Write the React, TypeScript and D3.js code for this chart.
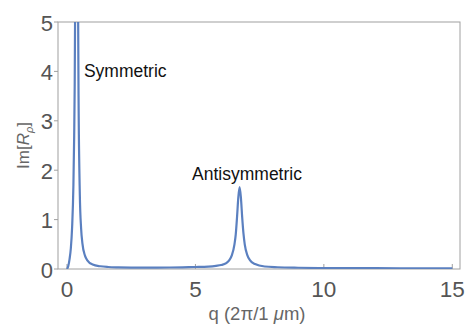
import React from 'react';
import * as d3 from 'd3';

// spectrum sampled off the figure (q in 2π/1µm, Im[Rp])
const qValues = [
  0, 0.05, 0.1, 0.15, 0.2, 0.25, 0.28, 0.3, 0.32, 0.34, 0.37, 0.4, 0.42, 0.45, 0.5, 0.55, 0.6, 0.7, 0.8, 1.0,
  1.3, 1.6, 2.0, 2.5, 3.0, 3.5, 4.0, 4.5, 5.0, 5.5, 5.8, 6.0, 6.2, 6.32, 6.42, 6.52, 6.57, 6.62, 6.67, 6.72,
  6.77, 6.82, 6.87, 6.92, 7.02, 7.12, 7.32, 7.7, 8.2, 9.0, 10.0, 11.0, 12.0, 13.0, 14.0, 15.0
];
const imValues = [
  0, 0.06, 0.2, 0.42, 0.85, 1.7, 2.7, 3.7, 5.6, 9.5, 20, 9.0, 6.5, 3.5, 1.5, 0.82, 0.52, 0.27, 0.17, 0.09,
  0.055, 0.04, 0.032, 0.028, 0.027, 0.028, 0.03, 0.034, 0.04, 0.05, 0.065, 0.08, 0.12, 0.18, 0.28, 0.5, 0.7, 1.05, 1.45, 1.66,
  1.45, 1.05, 0.72, 0.5, 0.28, 0.18, 0.1, 0.05, 0.035, 0.025, 0.02, 0.018, 0.016, 0.015, 0.014, 0.014
];
const xTicks = [0, 5, 10, 15];
const yTicks = [0, 1, 2, 3, 4, 5];
const annotations = [
  { text: 'Symmetric', q: 0.66, v: 3.89 },
  { text: 'Antisymmetric', q: 4.87, v: 1.8 }
];

const W = 466;
const H = 326;
const margin = { top: 22, right: 6, bottom: 57, left: 58 };

export default function App() {
  const x = d3.scaleLinear().domain([-0.35, 15.3]).range([margin.left, W - margin.right]);
  const y = d3.scaleLinear().domain([0, 5]).range([H - margin.bottom, margin.top]);
  const pts = qValues.map((q, i) => [q, imValues[i]] as [number, number]);
  const line = d3
    .line<[number, number]>()
    .x(d => x(d[0]))
    .y(d => y(d[1]))
    .curve(d3.curveMonotoneX);

  const axisCol = '#a0a0a0';
  const labelCol = '#555';
  const font = '"Liberation Sans", Arial, sans-serif';
  const x0 = margin.left;
  const x1 = W - margin.right;
  const y0 = H - margin.bottom;
  const y1 = margin.top;

  return (
    <svg width={W} height={H} style={{ position: 'absolute', left: 0, top: 0 }} fontFamily={font}>
      <defs>
        <clipPath id="plot">
          <rect x={x0} y={y1} width={x1 - x0} height={y0 - y1} />
        </clipPath>
      </defs>
      <rect x={0} y={0} width={W} height={H} fill="#fff" />
      {/* frame */}
      <rect x={x0} y={y1} width={x1 - x0} height={y0 - y1} fill="none" stroke={axisCol} strokeWidth={1} />
      {/* x ticks */}
      {xTicks.map(t => (
        <g key={'x' + t}>
          <line x1={x(t)} x2={x(t)} y1={y0} y2={y0 - 5} stroke={axisCol} />
          <text x={x(t)} y={y0 + 28} textAnchor="middle" fontSize={22.5} fill={labelCol}>
            {t}
          </text>
        </g>
      ))}
      {/* y ticks */}
      {yTicks.map(t => (
        <g key={'y' + t}>
          <line x1={x0} x2={x0 - 4} y1={y(t)} y2={y(t)} stroke={axisCol} />
          <text x={x0 - 5} y={y(t) + 8.5} textAnchor="end" fontSize={22} fill={labelCol}>
            {t}
          </text>
        </g>
      ))}
      <path d={line(pts) || ''} fill="none" stroke="#5b80c0" strokeWidth={2.2} clipPath="url(#plot)" />
      {annotations.map(a => (
        <text key={a.text} x={x(a.q)} y={y(a.v)} fontSize={17.5} fill="#111">
          {a.text}
        </text>
      ))}
      <text
        transform={`translate(${29},${(y0 + y1) / 2}) rotate(-90)`}
        textAnchor="middle"
        fontSize={17}
        fill="#666"
      >
        Im[<tspan fontStyle="italic">R</tspan>
        <tspan fontStyle="italic" fontSize={11} dy={4}>ρ</tspan>
        <tspan dy={-4}>]</tspan>
      </text>
      <text x={(x0 + x1) / 2 - 2} y={H - 6} textAnchor="middle" fontSize={18.5} fill="#666">
        q (2<tspan>π</tspan>/1 <tspan fontStyle="italic">μ</tspan>m)
      </text>
    </svg>
  );
}
